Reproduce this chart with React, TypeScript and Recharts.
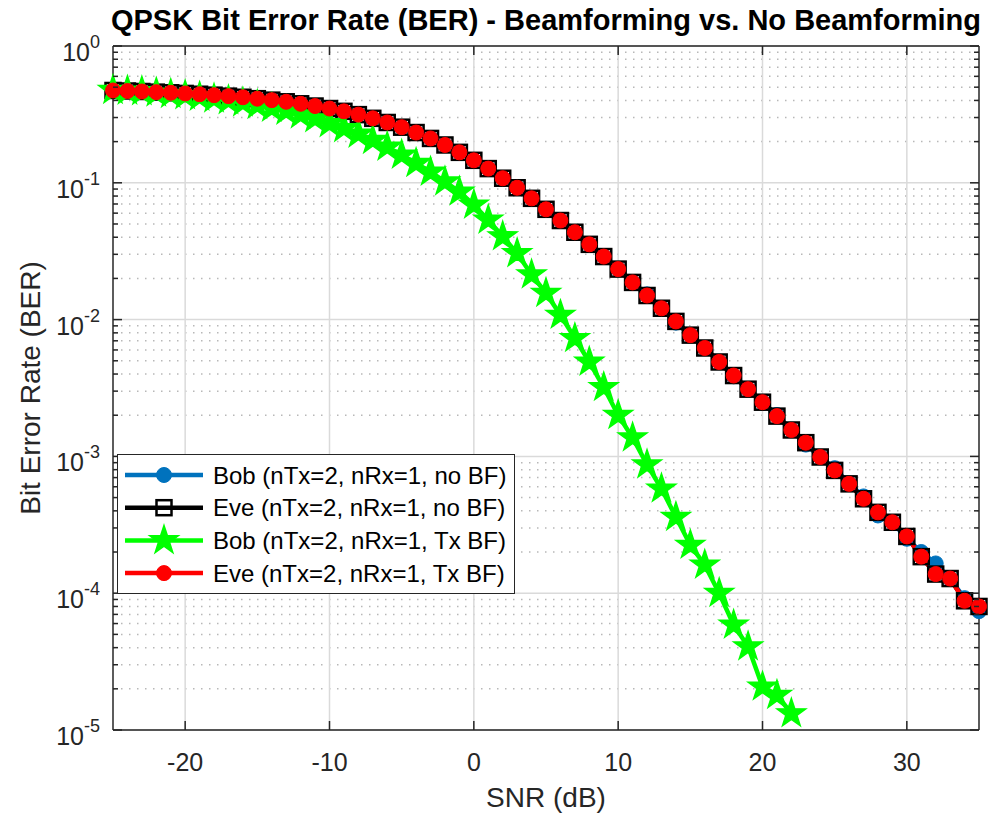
import {
  LineChart,
  Line,
  XAxis,
  YAxis,
  CartesianGrid,
  Legend,
  ReferenceLine,
} from "recharts";

// SNR in dB, one point per dB
const snrDb = [
  -25, -24, -23, -22, -21, -20, -19, -18, -17, -16, -15, -14, -13, -12, -11,
  -10, -9, -8, -7, -6, -5, -4, -3, -2, -1, 0, 1, 2, 3, 4, 5, 6, 7, 8, 9, 10,
  11, 12, 13, 14, 15, 16, 17, 18, 19, 20, 21, 22, 23, 24, 25, 26, 27, 28, 29,
  30, 31, 32, 33, 34, 35,
];

const bobNoBf = [
  0.473, 0.469, 0.465, 0.46, 0.455, 0.45, 0.444, 0.437, 0.43, 0.422, 0.412,
  0.402, 0.391, 0.378, 0.364, 0.349, 0.333, 0.315, 0.296, 0.276, 0.255, 0.233,
  0.211, 0.189, 0.167, 0.146, 0.127, 0.108, 0.092, 0.077, 0.064, 0.053, 0.0435,
  0.0355, 0.0289, 0.0234, 0.0187, 0.0153, 0.0121, 0.0095, 0.0077, 0.0062,
  0.0049, 0.00385, 0.0031, 0.00249, 0.00201, 0.00156, 0.00122, 0.00099,
  0.00082, 0.00063, 0.00051, 0.00037, 0.00033, 0.00025, 0.0002, 0.000165,
  0.000127, 0.000092, 0.000074,
];

const eveNoBf = [
  0.473, 0.469, 0.465, 0.46, 0.455, 0.45, 0.444, 0.437, 0.43, 0.422, 0.412,
  0.402, 0.391, 0.378, 0.364, 0.349, 0.333, 0.315, 0.296, 0.276, 0.255, 0.233,
  0.211, 0.189, 0.167, 0.146, 0.127, 0.108, 0.092, 0.077, 0.064, 0.053, 0.0435,
  0.0355, 0.0289, 0.0234, 0.0187, 0.015, 0.0121, 0.0097, 0.0077, 0.0062,
  0.0049, 0.0039, 0.0031, 0.00249, 0.00197, 0.00156, 0.00126, 0.00099,
  0.00079, 0.00063, 0.00049, 0.00039, 0.00033, 0.00026, 0.000185, 0.000138,
  0.000128, 0.000088, 0.00008,
];

const bobTxBf = [
  0.475, 0.47, 0.465, 0.455, 0.445, 0.435, 0.425, 0.412, 0.4, 0.385, 0.37,
  0.352, 0.335, 0.315, 0.295, 0.272, 0.25, 0.228, 0.205, 0.183, 0.16, 0.139,
  0.12, 0.102, 0.086, 0.069, 0.0535, 0.0405, 0.0305, 0.0213, 0.0156, 0.0108,
  0.0073, 0.0049, 0.0032, 0.002, 0.00137, 0.00087, 0.00058, 0.00036, 0.000225,
  0.000161, 0.0001, 0.0000586, 0.0000407, 0.0000207, 0.000018, 0.0000132, null,
  null, null, null, null, null, null, null, null, null, null, null, null,
];

const eveTxBf = [
  0.473, 0.469, 0.465, 0.46, 0.455, 0.45, 0.444, 0.437, 0.43, 0.422, 0.412,
  0.402, 0.391, 0.378, 0.364, 0.349, 0.333, 0.315, 0.296, 0.276, 0.255, 0.233,
  0.211, 0.189, 0.167, 0.146, 0.127, 0.108, 0.092, 0.077, 0.064, 0.053, 0.0435,
  0.0355, 0.0289, 0.0234, 0.0187, 0.015, 0.0121, 0.0097, 0.0077, 0.0062,
  0.0049, 0.0039, 0.0031, 0.00249, 0.00197, 0.00156, 0.00126, 0.00099,
  0.00079, 0.00063, 0.00049, 0.00039, 0.00033, 0.00026, 0.000185, 0.000138,
  0.000128, 0.000088, 0.00008,
];

const xTicks = [-20, -10, 0, 10, 20, 30];
const yMajor = [1e-5, 1e-4, 1e-3, 1e-2, 1e-1, 1];
const yMinor = [
  2e-5, 3e-5, 4e-5, 5e-5, 6e-5, 7e-5, 8e-5, 9e-5,
  2e-4, 3e-4, 4e-4, 5e-4, 6e-4, 7e-4, 8e-4, 9e-4,
  2e-3, 3e-3, 4e-3, 5e-3, 6e-3, 7e-3, 8e-3, 9e-3,
  2e-2, 3e-2, 4e-2, 5e-2, 6e-2, 7e-2, 8e-2, 9e-2,
  0.2, 0.3, 0.4, 0.5, 0.6, 0.7, 0.8, 0.9,
];

const series = [
  { key: "bobNoBf", name: "Bob (nTx=2, nRx=1, no BF)", color: "#0072BD", marker: "circle" },
  { key: "eveNoBf", name: "Eve (nTx=2, nRx=1, no BF)", color: "#000000", marker: "square" },
  { key: "bobTxBf", name: "Bob (nTx=2, nRx=1, Tx BF)", color: "#00FF00", marker: "star" },
  { key: "eveTxBf", name: "Eve (nTx=2, nRx=1, Tx BF)", color: "#FF0000", marker: "circle" },
];

const data = snrDb.map((snr, i) => ({
  snr,
  bobNoBf: bobNoBf[i],
  eveNoBf: eveNoBf[i],
  bobTxBf: bobTxBf[i],
  eveTxBf: eveTxBf[i],
}));

const W = 990;
const H = 816;
// axis width/height of 1px is added to these by recharts
const M = { top: 46, right: 11, bottom: 85, left: 112 };
const PLOT_LEFT = M.left + 1;
const PLOT_W = W - PLOT_LEFT - M.right;
const PLOT_H = H - M.top - M.bottom - 1;
const AX = "#262626";
const FONT = "'Liberation Sans', Arial, Helvetica, sans-serif";

function Marker({ kind, cx, cy, color }: any) {
  if (cx == null || cy == null || isNaN(cx) || isNaN(cy)) return <g />;
  if (kind === "circle") {
    return <circle cx={cx} cy={cy} r={7.5} fill={color} stroke={color} strokeWidth={1} />;
  }
  if (kind === "square") {
    return (
      <rect x={cx - 7.5} y={cy - 7.5} width={15} height={15} fill="none" stroke={color} strokeWidth={2.5} />
    );
  }
  const pts = [];
  for (let k = 0; k < 10; k++) {
    const a = (-90 + k * 36) * (Math.PI / 180);
    const r = k % 2 === 0 ? 15 : 5.8;
    pts.push(`${cx + r * Math.cos(a)},${cy + r * Math.sin(a)}`);
  }
  return <polygon points={pts.join(" ")} fill={color} stroke={color} strokeWidth={1.5} strokeLinejoin="miter" />;
}

function XTick({ x, y, payload }: any) {
  return (
    <g>
      <line x1={x} y1={y} x2={x} y2={y - 9} stroke={AX} strokeWidth={1.5} />
      <line x1={x} y1={M.top} x2={x} y2={M.top + 9} stroke={AX} strokeWidth={1.5} />
      <text x={x} y={y + 41} textAnchor="middle" fontSize={25} fontFamily={FONT} fill={AX}>
        {payload.value}
      </text>
    </g>
  );
}

function YTick({ x, y, payload }: any) {
  const lg = Math.log10(payload.value);
  const major = Math.abs(lg - Math.round(lg)) < 1e-6;
  const len = major ? 9 : 5;
  const right = PLOT_LEFT + PLOT_W;
  return (
    <g>
      <line x1={x} y1={y} x2={x + len} y2={y} stroke={AX} strokeWidth={1.5} />
      <line x1={right} y1={y} x2={right - len} y2={y} stroke={AX} strokeWidth={1.5} />
      {major && (
        <text x={x - 13} y={y + 15} textAnchor="end" fontSize={25} fontFamily={FONT} fill={AX}>
          <tspan>10</tspan>
          <tspan dy={-13} fontSize={18}>{String(Math.round(lg))}</tspan>
        </text>
      )}
    </g>
  );
}

function LegendBox() {
  return (
    <div
      style={{
        width: 398,
        height: 140,
        boxSizing: "border-box",
        border: `1.5px solid ${AX}`,
        background: "#fff",
      }}
    >
      <svg width={396} height={137}>
        {series.map((s, i) => {
          const cy = 20 + i * 32.7;
          return (
            <g key={s.key}>
              <line x1={7} y1={cy} x2={85} y2={cy} stroke={s.color} strokeWidth={4.5} />
              <Marker kind={s.marker} cx={46} cy={cy} color={s.color} />
              <text x={95} y={cy + 8.5} fontSize={24} fontFamily={FONT} fill="#000">
                {s.name}
              </text>
            </g>
          );
        })}
      </svg>
    </div>
  );
}

export default function App() {
  return (
    <div style={{ position: "absolute", left: 0, top: 0, background: "#fff" }}>
      <LineChart width={W} height={H} data={data} margin={M}>
        <CartesianGrid
          horizontalValues={yMinor}
          vertical={false}
          stroke="#b8b8b8"
          strokeWidth={1.5}
          strokeDasharray="1.5 6.5"
        />
        <CartesianGrid
          horizontalValues={yMajor}
          verticalValues={xTicks}
          stroke="#dadada"
          strokeWidth={1.5}
        />
        <XAxis
          dataKey="snr"
          type="number"
          domain={[-25, 35]}
          ticks={xTicks}
          interval={0}
          height={1}
          tickSize={0}
          tickMargin={0}
          tick={<XTick />}
          axisLine={{ stroke: AX, strokeWidth: 1.5 }}
          tickLine={false}
        />
        <YAxis
          scale="log"
          type="number"
          domain={[1e-5, 1]}
          ticks={[...yMajor, ...yMinor]}
          interval={0}
          width={1}
          tickSize={0}
          tickMargin={0}
          tick={<YTick />}
          axisLine={{ stroke: AX, strokeWidth: 1.5 }}
          tickLine={false}
        />
        <ReferenceLine y={1} stroke={AX} strokeWidth={1.5} ifOverflow="visible" />
        <ReferenceLine x={35} stroke={AX} strokeWidth={1.5} ifOverflow="visible" />
        {series.map((s) => (
          <Line
            key={s.key}
            type="linear"
            dataKey={s.key}
            name={s.name}
            stroke={s.color}
            strokeWidth={4.5}
            dot={(p: any) => <Marker key={`${s.key}-${p.index}`} kind={s.marker} cx={p.cx} cy={p.cy} color={s.color} />}
            activeDot={false}
            isAnimationActive={false}
          />
        ))}
        <Legend
          layout="vertical"
          align="center"
          verticalAlign="middle"
          wrapperStyle={{ left: 117, top: 454, width: 398, height: 140 }}
          content={() => <LegendBox />}
        />
        <text x={PLOT_LEFT + PLOT_W / 2} y={30} textAnchor="middle" fontSize={29} fontWeight="bold" fontFamily={FONT} fill="#000">
          QPSK Bit Error Rate (BER) - Beamforming vs. No Beamforming
        </text>
        <text x={PLOT_LEFT + PLOT_W / 2} y={807} textAnchor="middle" fontSize={28} fontFamily={FONT} fill={AX}>
          SNR (dB)
        </text>
        <text
          x={40}
          y={M.top + PLOT_H / 2}
          transform={`rotate(-90 40 ${M.top + PLOT_H / 2})`}
          textAnchor="middle"
          fontSize={28}
          fontFamily={FONT}
          fill={AX}
        >
          Bit Error Rate (BER)
        </text>
      </LineChart>
    </div>
  );
}
